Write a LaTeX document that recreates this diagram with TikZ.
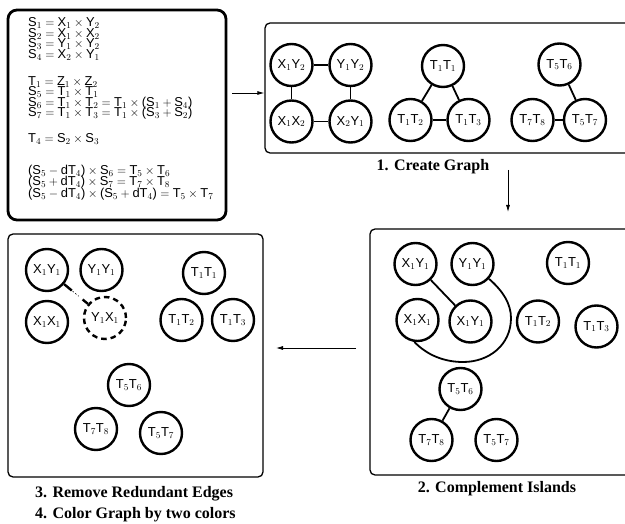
\documentclass[tikz,border=0pt]{standalone}
\usepackage{fontspec}
\setmainfont{Liberation Serif}
\setsansfont{Liberation Sans}
\usetikzlibrary{arrows.meta,calc}
% upright sans letters with ordinary math subscripts
\newcommand\sv[1]{\textsf{#1}}
\newcommand\lp{\mathopen{\textsf{(}}}
\newcommand\rp{\mathclose{\textsf{)}}}
\newcommand\pr[4]{\sv{#1}$_{#2}$\sv{#3}$_{#4}$}

\begin{document}
\begin{tikzpicture}[x=1pt,y=-1pt,
  frame/.style={draw, rounded corners=5pt, line width=1.3pt, inner sep=0pt},
  vtx/.style={draw, circle, line width=2.4pt, minimum size=42pt, inner sep=0pt,
              font=\fontsize{13}{13}\selectfont},
  ghost/.style={vtx, dash pattern=on 5.5pt off 4pt},
  edge/.style={line width=1.8pt},
  eq/.style={anchor=base west, inner sep=0pt, font=\fontsize{12.9}{13}\selectfont},
  caption/.style={font=\fontsize{16}{18}\selectfont\bfseries, inner sep=0pt},
  flow/.style={line width=0.8pt, -{Latex[length=7pt,width=4pt]}}]

\useasboundingbox (0,0) rectangle (625,524);
\clip (0,0) rectangle (625,524);

% ---------------- frames ----------------
\node[frame, line width=2.8pt, rounded corners=9pt,
      minimum width=218pt, minimum height=210pt] (eqbox) at (117,115) {};
\node[frame, minimum width=375pt, minimum height=130pt] (graphbox) at (452.5,88) {};
\node[frame, minimum width=270pt, minimum height=246pt] (compbox) at (505,352) {};
\node[frame, minimum width=255pt, minimum height=243pt] (redbox) at (135.5,355.5) {};

% ---------------- equations ----------------
\node[eq] (e1)  at (28,27)    {$\sv{S}_1 = \sv{X}_1 \times \sv{Y}_2$};
\node[eq] (e2)  at (28,37.5)  {$\sv{S}_2 = \sv{X}_1 \times \sv{X}_2$};
\node[eq] (e3)  at (28,48)    {$\sv{S}_3 = \sv{Y}_1 \times \sv{Y}_2$};
\node[eq] (e4)  at (28,58.5)  {$\sv{S}_4 = \sv{X}_2 \times \sv{Y}_1$};
\node[eq] (e5)  at (28,85.5)  {$\sv{T}_1 = \sv{Z}_1 \times \sv{Z}_2$};
\node[eq] (e6)  at (28,96)    {$\sv{S}_5 = \sv{T}_1 \times \sv{T}_1$};
\node[eq] (e7)  at (28,106.5) {$\sv{S}_6 = \sv{T}_1 \times \sv{T}_2 = \sv{T}_1 \times \lp\sv{S}_1 + \sv{S}_4\rp$};
\node[eq] (e8)  at (28,117)   {$\sv{S}_7 = \sv{T}_1 \times \sv{T}_3 = \sv{T}_1 \times \lp\sv{S}_3 + \sv{S}_2\rp$};
\node[eq] (e9)  at (28,143)   {$\sv{T}_4 = \sv{S}_2 \times \sv{S}_3$};
\node[eq] (e10) at (28,175)   {$\lp\sv{S}_5 - \sv{dT}_4\rp \times \sv{S}_6 = \sv{T}_5 \times \sv{T}_6$};
\node[eq] (e11) at (28,186)   {$\lp\sv{S}_5 + \sv{dT}_4\rp \times \sv{S}_7 = \sv{T}_7 \times \sv{T}_8$};
\node[eq] (e12) at (28,197.5) {$\lp\sv{S}_5 - \sv{dT}_4\rp \times \lp\sv{S}_5 + \sv{dT}_4\rp = \sv{T}_5 \times \sv{T}_7$};

% ---------------- 1. create graph ----------------
\node[vtx] (a1) at (291.5,65)   {\pr X1Y2};
\node[vtx] (a2) at (350.5,65)   {\pr Y1Y2};
\node[vtx] (a3) at (291.5,121.5){\pr X1X2};
\node[vtx] (a4) at (350.5,121.5){\pr X2Y1};
\node[vtx] (a5) at (443,66)     {\pr T1T1};
\node[vtx] (a6) at (410.5,120)  {\pr T1T2};
\node[vtx] (a7) at (468.5,120)  {\pr T1T3};
\node[vtx] (a8) at (559.5,64.5) {\pr T5T6};
\node[vtx] (a9) at (532.5,120)  {\pr T7T8};
\node[vtx] (a10) at (585,120)   {\pr T5T7};
\draw[edge] (a1) -- (a2);
\draw[edge] (a1) -- (a3);
\draw[edge] (a2) -- (a4);
\draw[edge] (a3) -- (a4);
\draw[edge] (a5) -- (a6);
\draw[edge] (a5) -- (a7);
\draw[edge, line width=2.6pt] (a6) -- (a7);
\draw[edge] (a8) -- (a10);
\draw[edge] (a9) -- (a10);

% ---------------- 2. complement islands ----------------
\node[vtx] (c1) at (415.5,264)  {\pr X1Y1};
\node[vtx] (c2) at (472.5,264)  {\pr Y1Y1};
\node[vtx] (c3) at (417.5,320)  {\pr X1X1};
\node[vtx] (c4) at (470.5,321.5){\pr X1Y1};
\node[vtx] (c5) at (568,263)    {\pr T1T1};
\node[vtx] (c6) at (538,321.5)  {\pr T1T2};
\node[vtx] (c7) at (596.5,326.5){\pr T1T3};
\node[vtx] (c8) at (460.5,389)  {\pr T5T6};
\node[vtx] (c9) at (431.5,440)  {\pr T7T8};
\node[vtx] (c10) at (496.5,440) {\pr T5T7};
\draw[edge] (c1) -- (c4);
\draw[edge] (c2.-42) .. controls (503,291) and (511,304) .. (511,318)
                     .. controls (511,345) and (489,362) .. (463,362)
                     .. controls (444,362) and (427,355) .. (c3.-98);
\draw[edge] (c8) -- (c9);

% ---------------- 3./4. redundant edges removed ----------------
\node[vtx]   (r1) at (47,270)    {\pr X1Y1};
\node[vtx]   (r2) at (101.5,270) {\pr Y1Y1};
\node[vtx]   (r3) at (47,322)    {\pr X1X1};
\node[ghost] (r4) at (105,318)   {\pr Y1X1};
\node[vtx]   (r5) at (204,273)   {\pr T1T1};
\node[vtx]   (r6) at (181.5,320) {\pr T1T2};
\node[vtx]   (r7) at (233,320)   {\pr T1T3};
\node[vtx]   (r8) at (129,385)   {\pr T5T6};
\node[vtx]   (r9) at (96,429)    {\pr T7T8};
\node[vtx]   (r10) at (161,433)  {\pr T5T7};
\draw[edge, line width=2.4pt, dash pattern=on 10pt off 14pt on 10pt off 10pt] (r1) -- (r4);
\draw[line width=0.6pt, dash pattern=on 1.5pt off 2pt,
      shorten <=11pt, shorten >=12pt] (r1) -- (r4);

% ---------------- flow arrows ----------------
\coordinate (f1) at (232,93);
\draw[flow] (f1) -- (f1 -| graphbox.west);
\coordinate (f2s) at (508,170);
\coordinate (f2e) at (508,212);
\draw[flow] (f2s) -- (f2e);
\coordinate (f3s) at (356,348);
\coordinate (f3e) at (276,348);
\draw[flow] (f3s) -- (f3e);

% ---------------- captions ----------------
\node[caption] (t1) at (433,167) {1. Create Graph};
\node[caption] (t2) at (497,489) {2. Complement Islands};
\node[caption, anchor=west] (t3) at (35,494) {3. Remove Redundant Edges};
\node[caption, anchor=west] (t4) at (35,515) {4. Color Graph by two colors};
\end{tikzpicture}
\end{document}
